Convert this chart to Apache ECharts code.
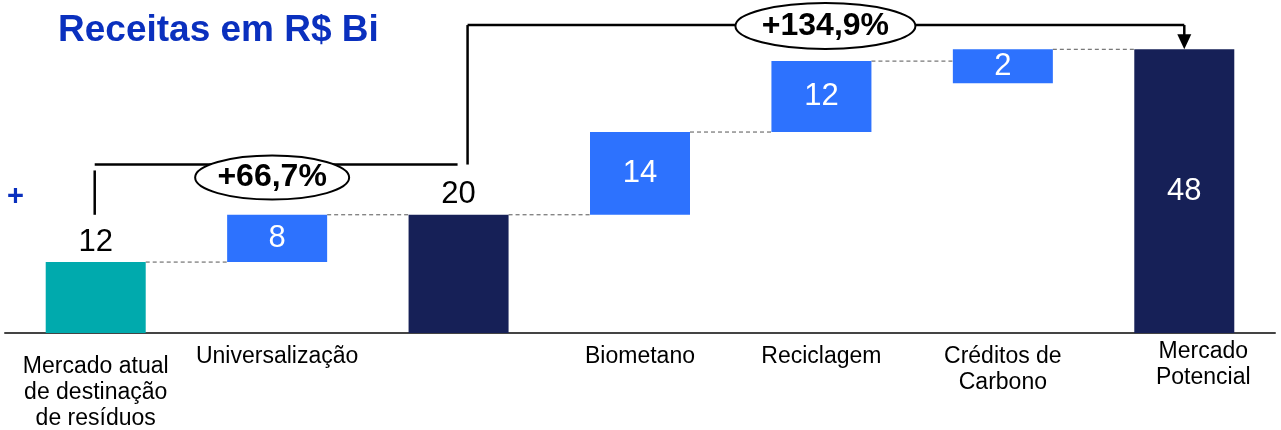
<!DOCTYPE html>
<html>
<head>
<meta charset="utf-8">
<script src="https://cdn.jsdelivr.net/npm/echarts@6/dist/echarts.min.js"></script>
<style>
html,body{margin:0;padding:0;background:#fff;}
#chart{width:1281px;height:430px;}
</style>
</head>
<body>
<div id="chart"></div>
<script>
const categories = ['Mercado atual\nde destinação\nde resíduos', 'Universalização', '', 'Biometano', 'Reciclagem', 'Créditos de\nCarbono', 'Mercado\nPotencial'];
const baseValues = [0, 12, 0, 20, 34, 46, 0];
const barValues = [12, 8, 20, 14, 12, 2, 48];
const barKinds = ['start', 'delta', 'total', 'delta', 'delta', 'delta', 'total'];
const growthLabels = ['+66,7%', '+134,9%'];
const titleText = 'Receitas em R$ Bi';

const FONT = '"Liberation Sans", Arial, sans-serif';
const kindColor = { start: '#00aaad', delta: '#2d72fe', total: '#162057' };
const labelAbove = [true, false, true, false, false, false, false];
const BAR_W = 100, MIN_H = 34;

const chart = echarts.init(document.getElementById('chart'), null, { renderer: 'canvas' });

const barData = categories.map((c, i) => [i, baseValues[i], barValues[i]]);
const connData = [];
for (let i = 0; i < categories.length - 1; i++) {
  const top = barKinds[i] === 'delta' ? baseValues[i] + barValues[i] : barValues[i];
  connData.push([i, top]);
}

const catData = categories.map((c, i) => {
  if (i === 0) return { value: c, textStyle: { padding: [15, 0, 0, 0] } };
  if (i === categories.length - 1) return { value: c, textStyle: { padding: [0, 0, 0, 38] } };
  return c;
});

chart.setOption({
  animation: false,
  grid: { left: 5, right: 6, top: 2, bottom: 97, containLabel: false, outerBoundsMode: 'none' },
  xAxis: {
    type: 'category',
    data: catData,
    axisLine: { lineStyle: { color: '#444', width: 2 } },
    axisTick: { show: false },
    axisLabel: { color: '#000', fontSize: 23, fontFamily: FONT, lineHeight: 26, margin: 6, padding: [5, 0, 0, 0], interval: 0, hideOverlap: false }
  },
  yAxis: { type: 'value', min: 0, max: 56, show: false, splitLine: { show: false } },
  series: [
    {
      type: 'custom',
      data: connData,
      z: 1,
      renderItem: function (params, api) {
        const i = api.value(0), v = api.value(1);
        const p0 = api.coord([i, v]), p1 = api.coord([i + 1, v]);
        return {
          type: 'line',
          shape: { x1: p0[0] + BAR_W / 2, y1: p0[1], x2: p1[0] - BAR_W / 2, y2: p1[1] },
          style: { stroke: '#555', lineWidth: 1, lineDash: [4, 3] }
        };
      }
    },
    {
      type: 'custom',
      data: barData,
      z: 2,
      renderItem: function (params, api) {
        const i = api.value(0), b = api.value(1), v = api.value(2);
        const pb = api.coord([i, b]), pt = api.coord([i, b + v]);
        let top = pt[1], h = pb[1] - pt[1];
        if (h < MIN_H) h = MIN_H;
        const kind = barKinds[i];
        const above = labelAbove[i];
        return {
          type: 'group',
          children: [
            { type: 'rect', shape: { x: pt[0] - BAR_W / 2, y: top, width: BAR_W, height: h }, style: { fill: kindColor[kind] } },
            { type: 'text', x: pt[0], y: above ? top - 20 : top + h / 2,
              style: { text: String(v), fill: above ? '#000' : '#fff', font: '31px ' + FONT, align: 'center', verticalAlign: 'middle' } }
          ]
        };
      }
    }
  ]
});

function px(i, v) { return chart.convertToPixel({ xAxisIndex: 0, yAxisIndex: 0 }, [i, v]); }

const c0 = px(0, 20), c0top = px(0, 27.5), h1 = px(0, 28.5);
const c2 = px(2, 28.5), h2 = px(2, 52.1);
const c6 = px(6, 52.1), c6top = px(6, 48);
const e1x = (c0[0] + c2[0]) / 2 - 5, e1y = h1[1] + 13;
const e2x = (c2[0] + c6[0]) / 2 + 4, e2y = h2[1] + 1;
const LW = 2.5;

chart.setOption({
  graphic: [
    { type: 'text', left: 58, top: 12, style: { text: titleText, fill: '#0a30be', font: 'bold 37px ' + FONT } },
    { type: 'text', left: 7, top: 182, style: { text: '+', fill: '#0a30be', font: 'bold 29px ' + FONT } },
    // bracket 1
    { type: 'line', shape: { x1: c0[0] - 1, y1: c0[1], x2: c0[0] - 1, y2: c0top[1] }, style: { stroke: '#000', lineWidth: LW } },
    { type: 'line', shape: { x1: c0[0] - 1, y1: h1[1], x2: c2[0] - 1, y2: h1[1] }, style: { stroke: '#000', lineWidth: LW } },
    { type: 'ellipse', shape: { cx: e1x, cy: e1y, rx: 77, ry: 22 }, style: { fill: '#fff', stroke: '#000', lineWidth: 2 }, z: 10 },
    { type: 'text', x: e1x, y: e1y, z: 11, style: { text: growthLabels[0], fill: '#000', font: 'bold 32px ' + FONT, align: 'center', verticalAlign: 'middle' } },
    // bracket 2
    { type: 'line', shape: { x1: c2[0] + 9, y1: c2[1], x2: c2[0] + 9, y2: h2[1] }, style: { stroke: '#000', lineWidth: LW } },
    { type: 'line', shape: { x1: c2[0] + 9, y1: h2[1], x2: c6[0], y2: h2[1] }, style: { stroke: '#000', lineWidth: LW } },
    { type: 'line', shape: { x1: c6[0], y1: h2[1], x2: c6[0], y2: c6top[1] - 12 }, style: { stroke: '#000', lineWidth: LW } },
    { type: 'polygon', shape: { points: [[c6[0] - 7, c6top[1] - 15], [c6[0] + 7, c6top[1] - 15], [c6[0], c6top[1]]] }, style: { fill: '#000' } },
    { type: 'ellipse', shape: { cx: e2x, cy: e2y, rx: 90, ry: 23 }, style: { fill: '#fff', stroke: '#000', lineWidth: 2 }, z: 10 },
    { type: 'text', x: e2x, y: e2y, z: 11, style: { text: growthLabels[1], fill: '#000', font: 'bold 32px ' + FONT, align: 'center', verticalAlign: 'middle' } }
  ]
});
</script>
</body>
</html>
